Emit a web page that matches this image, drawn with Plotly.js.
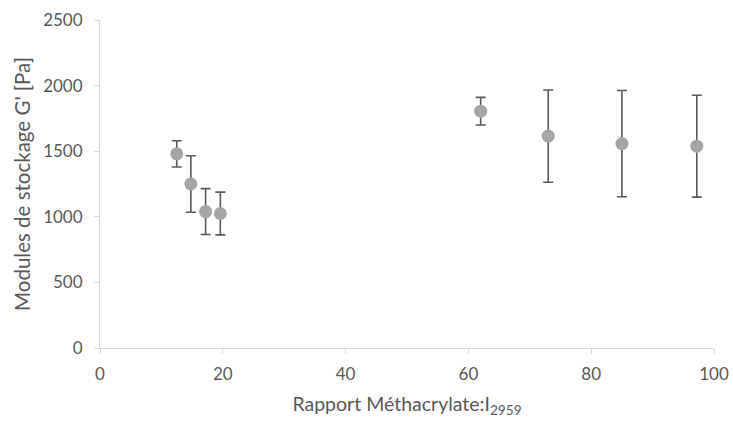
<!DOCTYPE html>
<html><head><meta charset="utf-8">
<script src="https://cdn.plot.ly/plotly-3.0.1.min.js"></script>
<style>html,body{margin:0;padding:0;background:#fff}</style>
</head><body><div id="chart" style="width:733px;height:421px"></div>
<script>
const ratio = [12.5, 14.8, 17.2, 19.6, 62.0, 73.0, 85.0, 97.2];
const storageModulus = [1480, 1250, 1040, 1025, 1805, 1615, 1558, 1538];
const errorPlusMinus = [100, 215, 175, 163, 105, 352, 405, 388];
const xTicks = [0, 20, 40, 60, 80, 100];
const yTicks = [0, 500, 1000, 1500, 2000, 2500];

const font = "Lato, 'Open Sans', sans-serif";
Plotly.newPlot('chart', [{
  x: ratio, y: storageModulus, type: 'scatter', mode: 'markers',
  marker: {size: 13, color: '#a5a5a5'},
  error_y: {type: 'data', array: errorPlusMinus, visible: true, color: '#595959', thickness: 1.6, width: 5}
}], {
  width: 733, height: 421,
  margin: {l: 100, r: 19, t: 20, b: 73},
  paper_bgcolor: '#fff', plot_bgcolor: '#fff',
  showlegend: false,
  font: {family: font, color: '#595959', size: 17},
  xaxis: {range: [0, 100], tickvals: xTicks, showgrid: false, zeroline: false,
    showline: true, linecolor: '#d9d9d9', linewidth: 1, ticks: 'outside', ticklen: 5, tickcolor: '#d9d9d9',
    tickfont: {size: 17, color: '#595959'}, ticklabelstandoff: 6,
    title: {text: 'Rapport Méthacrylate:I<sub>2959</sub>', font: {size: 19.5, color: '#595959'}, standoff: 13}},
  yaxis: {range: [0, 2500], tickvals: yTicks, showgrid: false, zeroline: false,
    showline: true, linecolor: '#d9d9d9', linewidth: 1, ticks: 'outside', ticklen: 5, tickcolor: '#d9d9d9',
    tickfont: {size: 17, color: '#595959'}, ticklabelstandoff: 8,
    title: {text: "Modules de stockage G' [Pa]", font: {size: 20.5, color: '#595959'}, standoff: 6}}
}, {staticPlot: true});
</script></body></html>
